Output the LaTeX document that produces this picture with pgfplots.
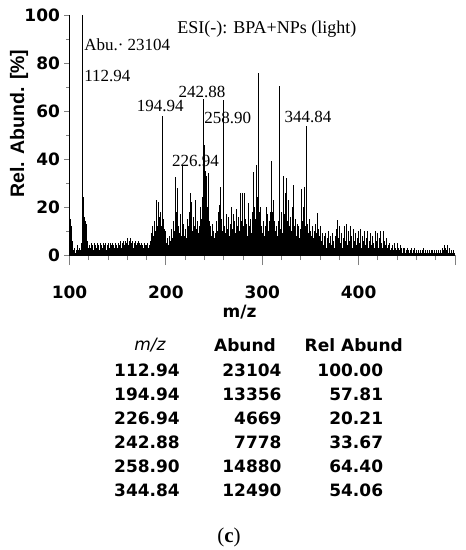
\documentclass[border=0pt]{standalone}
\usepackage{fontspec}
\usepackage{pgfplots}
\pgfplotsset{compat=1.18}
\setmainfont{Liberation Serif}
\newfontfamily\dvs{DejaVu Sans}
\newfontfamily\las{Liberation Sans}
\newcommand{\tk}{\dvs\bfseries\fontsize{17}{17}\selectfont}
\newcommand{\an}{\fontsize{17}{17}\selectfont}
\begin{document}
\begin{tikzpicture}
\useasboundingbox (-69.5pt,-295pt) rectangle (396.5pt,255pt);
\begin{axis}[
  scale only axis, width=385.5pt, height=240pt,
  xmin=100, xmax=500, ymin=0, ymax=100,
  axis x line=bottom, axis y line=left,
  axis line style={-, line width=0.8pt},
  tick align=outside,
  xtick={100,200,300,400,500}, xticklabels={100,200,300,400,},
  minor x tick num=4,
  ytick={0,20,40,60,80,100}, minor y tick num=1,
  major tick length=5pt, minor tick length=3pt,
  x tick style={line width=0.8pt, /pgfplots/major tick length=10pt, /pgfplots/minor tick length=5pt},
  y tick style={line width=0.8pt},
  /pgf/number format/assume math mode=true,
  ticklabel style={font=\tk},
  xticklabel style={yshift=-22pt},
  yticklabel style={xshift=-1pt},
]
\addplot[ycomb, black, line width=0.8pt, mark=none] coordinates {
(100,14)(101,15)(102,12)(103,6)(104,2)(105,3)(106,1)(107,2)(108,4)(109,2)(110,3)(111,2)(112,5)(113,100)(114,24)(115,16)(116,10)(117,14)(118,13)(119,6)(120,3)
(121,4)(122,3)(123,5)(124,4)(125,2)(126,5)(127,4)(128,3)(129,5)(130,4)(131,2)(132,5)(133,4)(134,3)(135,5)(136,4)(137,5)(138,2)(139,4)(140,5)
(141,3)(142,5)(143,4)(144,2)(145,5)(146,4)(147,3)(148,5)(149,4)(150,3)(151,5)(152,4)(153,6)(154,3)(155,5)(156,6)(157,4)(158,6)(159,5)(160,7)
(161,4)(162,6)(163,7)(164,5)(165,6)(166,3)(167,5)(168,6)(169,4)(170,5)(171,6)(172,3)(173,5)(174,4)(175,5)(176,4)(177,3)(178,5)(179,4)(180,4)
(181,5)(182,3)(183,4)(184,6)(185,9)(186,12)(187,8)(188,14)(189,10)(190,23)(191,12)(192,22)(193,16)(194,18)(195,12)(196,57.8)(197,15)(198,11)(199,8)(200,10)
(201,5)(202,7)(203,4)(204,8)(205,6)(206,11)(207,7)(208,14)(209,10)(210,32.5)(211,18)(212,28)(213,12)(214,9)(215,17)(216,8)(217,37)(218,13)(219,8)(220,11)
(221,7)(222,15)(223,12)(224,18)(225,26)(226,14)(227,22)(228,10)(229,16)(230,12)(231,23)(232,11)(233,14)(234,9)(235,12)(236,20)(237,15)(238,24)(239,65)(240,46)
(241,35)(242,33)(243,20)(244,34)(245,14)(246,12)(247,8)(248,13)(249,10)(250,7)(251,9)(252,14)(253,10)(254,18)(255,12)(256,21)(257,28.5)(258,15)(259,10)(260,64.4)
(261,12)(262,9)(263,17)(264,11)(265,16)(266,8)(267,13)(268,20)(269,11)(270,17)(271,14)(272,9)(273,19)(274,12)(275,16)(276,10)(277,25.7)(278,14)(279,25.7)(280,12)
(281,25.7)(282,15)(283,10)(284,13)(285,8)(286,21.5)(287,12)(288,15)(289,9)(290,18)(291,34.7)(292,20)(293,15)(294,37.5)(295,24)(296,75.8)(297,18)(298,20)(299,12)(300,9)
(301,14)(302,8)(303,12)(304,20)(305,17)(306,10)(307,14)(308,18)(309,25)(310,39.3)(311,18)(312,23)(313,14)(314,10)(315,12)(316,8)(317,14)(318,70.5)(319,11)(320,18)
(321,9)(322,33)(323,17)(324,26)(325,32)(326,14)(327,23)(328,12)(329,16)(330,10)(331,20)(332,29)(333,12)(334,15)(335,8)(336,13)(337,10)(338,12)(339,7)(340,11)
(341,27.4)(342,14)(343,20)(344,28.5)(345,12)(346,53.7)(347,13)(348,9)(349,15)(350,10)(351,8)(352,12)(353,7)(354,10)(355,13)(356,9)(357,17.4)(358,11)(359,8)(360,12)
(361,6)(362,9)(363,4)(364,8)(365,5)(366,9)(367,3)(368,7)(369,10)(370,5)(371,8)(372,4)(373,9)(374,6)(375,3)(376,8)(377,11)(378,14.5)(379,7)(380,12)
(381,5)(382,9)(383,3)(384,7)(385,12)(386,6)(387,13)(388,4)(389,10)(390,6)(391,12)(392,5)(393,8)(394,3)(395,11)(396,6)(397,9)(398,4)(399,7)(400,10)
(401,5)(402,11)(403,3)(404,8)(405,6)(406,10)(407,4)(408,7)(409,10)(410,3)(411,6)(412,9)(413,4)(414,8)(415,5)(416,3)(417,10)(418,6)(419,4)(420,9)
(421,3)(422,7)(423,10)(424,5)(425,3)(426,10)(427,6)(428,4)(429,7)(430,3)(431,4)(432,5)(433,2)(434,3)(435,4)(436,2)(437,5)(438,3)(439,2)(440,5)
(441,3)(442,2)(443,4)(444,3)(445,1)(446,3)(447,2)(448,3)(449,1)(450,2)(451,3)(452,2)(453,1)(454,2)(455,3)(456,1)(457,2)(458,3)(459,1)(460,2)
(461,1)(462,2)(463,1)(464,2)(465,1)(466,2)(467,3)(468,1)(469,2)(470,1)(471,2)(472,1)(473,2)(474,1)(475,2)(476,1)(477,2)(478,1)(479,2)(480,1)
(481,2)(482,1)(483,2)(484,1)(485,2)(486,1)(487,3)(488,2)(489,4)(490,3)(491,2)(492,4)(493,1)(494,3)(495,1)(496,2)(497,1)(498,2)(499,1)(500,1)
};
\node[anchor=base west, inner sep=0, font=\fontsize{18}{18}\selectfont] at (axis cs:211.7,92.1) {ESI(-): BPA+NPs (light)};
\node[anchor=base west, inner sep=0, font=\an] at (axis cs:115.1,85.4) {Abu.· 23104};
\node[anchor=base west, inner sep=0, font=\an] at (axis cs:115.1,72.2) {112.94};
\node[anchor=base west, inner sep=0, font=\an] at (axis cs:169.8,59.7) {194.94};
\node[anchor=base west, inner sep=0, font=\an] at (axis cs:213,65.5) {242.88};
\node[anchor=base west, inner sep=0, font=\an] at (axis cs:239.7,54.9) {258.90};
\node[anchor=base west, inner sep=0, font=\an] at (axis cs:206.2,36.8) {226.94};
\node[anchor=base west, inner sep=0, font=\an] at (axis cs:322.9,55.3) {344.84};
\end{axis}
% labels outside the axis (1pt = 1px of the reference, origin at the axis corner)
\node[rotate=90, font=\las\bfseries\fontsize{19.5}{19.5}\selectfont] at (-50.5pt,131.5pt) {Rel. Abund. [\%]};
\node[font=\tk] at (170pt,-57.5pt) {m/z};
\node[font=\dvs\itshape\fontsize{17}{17}\selectfont] at (80.5pt,-90.5pt) {m/z};
\node[anchor=east, inner sep=0, font=\tk] at (206.5pt,-90.5pt) {Abund};
\node[anchor=east, inner sep=0, font=\tk] at (333.5pt,-90.5pt) {Rel Abund};
\foreach \m/\a/\r [count=\i] in {112.94/23104/100.00, 194.94/13356/57.81, 226.94/4669/20.21, 242.88/7778/33.67, 258.90/14880/64.40, 344.84/12490/54.06} {
  \node[anchor=east, inner sep=0, font=\tk] at (110.5pt,{-115pt-24pt*(\i-1)}) {\m};
  \node[anchor=east, inner sep=0, font=\tk] at (212.2pt,{-115pt-24pt*(\i-1)}) {\a};
  \node[anchor=east, inner sep=0, font=\tk] at (313.8pt,{-115pt-24pt*(\i-1)}) {\r};
}
\node[font=\fontsize{21}{21}\selectfont] at (159.5pt,-282.5pt) {(\textbf{c})};
\end{tikzpicture}
\end{document}
